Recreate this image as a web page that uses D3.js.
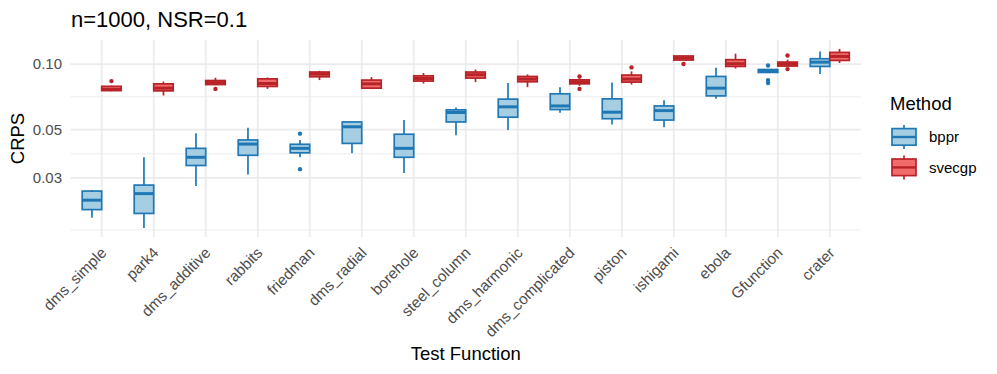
<!DOCTYPE html>
<html>
<head>
<meta charset="utf-8">
<script src="https://cdn.jsdelivr.net/npm/d3@7"></script>
<style>
  body { margin: 0; background: #fff; }
  text { font-family: "Liberation Sans", Arial, Helvetica, sans-serif; }
</style>
</head>
<body>
<div id="chart"></div>
<script>
// chart data
var categories = ["dms_simple", "park4", "dms_additive", "rabbits", "friedman", "dms_radial",
  "borehole", "steel_column", "dms_harmonic", "dms_complicated", "piston", "ishigami",
  "ebola", "Gfunction", "crater"];
var methods = ["bppr", "svecgp"];

// bppr: whisker low, q1, median, q3, whisker high, outliers
var bpprLow  = [0.0197, 0.01765, 0.0275, 0.0311, 0.0373, 0.0389, 0.0316, 0.0471, 0.0498, 0.0598, 0.0527, 0.0512, 0.0692, 0.0915, 0.0899];
var bpprQ1   = [0.02145, 0.0206, 0.0342, 0.0381, 0.0391, 0.0432, 0.0373, 0.0542, 0.0570, 0.0618, 0.0561, 0.0553, 0.0714, 0.0915, 0.0975];
var bpprMed  = [0.0237, 0.0254, 0.0373, 0.0429, 0.0410, 0.0515, 0.0410, 0.0599, 0.0636, 0.0642, 0.0601, 0.0611, 0.0775, 0.0931, 0.1020];
var bpprQ3   = [0.0261, 0.0278, 0.0410, 0.0448, 0.0428, 0.0542, 0.0476, 0.0616, 0.0690, 0.0730, 0.0692, 0.0642, 0.0877, 0.0944, 0.1058];
var bpprHigh = [0.0264, 0.0373, 0.0481, 0.0510, 0.0448, 0.0548, 0.0553, 0.0631, 0.0818, 0.0783, 0.0823, 0.0682, 0.0962, 0.0944, 0.1143];
var bpprOut  = [[], [], [], [], [0.0479, 0.0329], [], [], [], [], [], [], [], [], [0.0985, 0.0844, 0.0818], []];

// svecgp: whisker low, q1, median, q3, whisker high, outliers
var svecgpLow  = [0.0750, 0.0717, 0.0800, 0.0769, 0.0844, 0.0767, 0.0814, 0.0826, 0.0783, 0.0794, 0.0805, 0.1043, 0.0954, 0.0975, 0.1011];
var svecgpQ1   = [0.0755, 0.0753, 0.0805, 0.0789, 0.0874, 0.0775, 0.0835, 0.0862, 0.0829, 0.0811, 0.0826, 0.1043, 0.0975, 0.0979, 0.1039];
var svecgpMed  = [0.0765, 0.0775, 0.0822, 0.0814, 0.0899, 0.0811, 0.0858, 0.0893, 0.0853, 0.0829, 0.0853, 0.1066, 0.1003, 0.1000, 0.1084];
var svecgpQ3   = [0.0790, 0.0811, 0.0840, 0.0855, 0.0919, 0.0844, 0.0883, 0.0919, 0.0877, 0.0846, 0.0890, 0.1089, 0.1047, 0.1021, 0.1131];
var svecgpHigh = [0.0795, 0.0831, 0.0865, 0.0868, 0.0931, 0.0871, 0.0909, 0.0944, 0.0896, 0.0858, 0.0925, 0.1089, 0.1116, 0.1047, 0.1173];
var svecgpOut  = [[0.0835], [], [0.0769], [], [], [], [], [], [], [0.0877, 0.0769], [0.0965], [0.1000], [], [0.1095, 0.0948], []];

// axis breaks
var yTicks = [0.03, 0.05, 0.10];
var yTickLabels = ["0.03", "0.05", "0.10"];
var yMinor = [0.0173, 0.0387, 0.0707];

// build rows for the boxes
var boxData = [];
categories.forEach(function(c, i) {
  boxData.push({cat: c, method: "bppr", low: bpprLow[i], q1: bpprQ1[i], med: bpprMed[i], q3: bpprQ3[i], high: bpprHigh[i], out: bpprOut[i]});
  boxData.push({cat: c, method: "svecgp", low: svecgpLow[i], q1: svecgpQ1[i], med: svecgpMed[i], q3: svecgpQ3[i], high: svecgpHigh[i], out: svecgpOut[i]});
});

var stroke_Color = {bppr: "#1f78b4", svecgp: "#b82328"};
var fill_Color = {bppr: "#a6cee3", svecgp: "#f26b6b"};

// svg size and panel
var svg_Width = 997;
var svg_Height = 374;
var panel = {left: 70.5, right: 861, top: 40, bottom: 237};

var svg = d3.select("#chart")
  .append("svg")
  .attr("width", svg_Width)
  .attr("height", svg_Height);

// scales
var x_Scale = d3.scalePoint()
  .domain(categories)
  .range([panel.left, panel.right])
  .padding(0.6);
var step = x_Scale.step();
var dodge = d3.scaleBand().domain(methods).range([-0.375 * step, 0.375 * step]);
var boxW = dodge.bandwidth();

var allVals = [];
boxData.forEach(function(d) { allVals.push(d.low, d.high); d.out.forEach(function(v) { allVals.push(v); }); });
var lmin = Math.log10(d3.min(allVals)), lmax = Math.log10(d3.max(allVals));
var pad = (lmax - lmin) * 0.05;
var y_Scale = d3.scaleLog()
  .domain([Math.pow(10, lmin - pad), Math.pow(10, lmax + pad)])
  .range([panel.bottom, panel.top]);

// grid
var grid = svg.append("g");
grid.selectAll(".minor").data(yMinor).enter().append("line")
  .attr("x1", panel.left).attr("x2", panel.right)
  .attr("y1", d => y_Scale(d)).attr("y2", d => y_Scale(d))
  .attr("stroke", "#ebebeb").attr("stroke-width", 0.9);
grid.selectAll(".major").data(yTicks).enter().append("line")
  .attr("x1", panel.left).attr("x2", panel.right)
  .attr("y1", d => y_Scale(d)).attr("y2", d => y_Scale(d))
  .attr("stroke", "#ebebeb").attr("stroke-width", 1.7);
grid.selectAll(".vx").data(categories).enter().append("line")
  .attr("x1", d => x_Scale(d)).attr("x2", d => x_Scale(d))
  .attr("y1", panel.top).attr("y2", panel.bottom)
  .attr("stroke", "#ebebeb").attr("stroke-width", 1.7);

// boxes
var boxes = svg.append("g").selectAll("g")
  .data(boxData).enter().append("g")
  .attr("transform", d => `translate(${x_Scale(d.cat) + dodge(d.method) + boxW / 2},0)`);

boxes.append("line")
  .attr("y1", d => y_Scale(d.high)).attr("y2", d => y_Scale(d.q3))
  .attr("stroke", d => stroke_Color[d.method]).attr("stroke-width", 1.7);
boxes.append("line")
  .attr("y1", d => y_Scale(d.q1)).attr("y2", d => y_Scale(d.low))
  .attr("stroke", d => stroke_Color[d.method]).attr("stroke-width", 1.7);
boxes.append("rect")
  .attr("x", -boxW / 2).attr("width", boxW)
  .attr("y", d => y_Scale(d.q3))
  .attr("height", d => Math.max(0.1, y_Scale(d.q1) - y_Scale(d.q3)))
  .attr("fill", d => fill_Color[d.method])
  .attr("stroke", d => stroke_Color[d.method]).attr("stroke-width", 1.7);
boxes.append("line")
  .attr("x1", -boxW / 2).attr("x2", boxW / 2)
  .attr("y1", d => y_Scale(d.med)).attr("y2", d => y_Scale(d.med))
  .attr("stroke", d => stroke_Color[d.method]).attr("stroke-width", 3);
boxes.each(function(d) {
  d3.select(this).selectAll("circle").data(d.out).enter().append("circle")
    .attr("cx", 0).attr("cy", v => y_Scale(v)).attr("r", 2.2)
    .attr("fill", stroke_Color[d.method]);
});

// y axis labels
svg.append("g").selectAll("text").data(yTicks).enter().append("text")
  .attr("x", 62).attr("y", d => y_Scale(d)).attr("dy", "0.36em")
  .attr("text-anchor", "end").attr("font-size", 15).attr("fill", "#4d4d4d")
  .text((d, i) => yTickLabels[i]);

// x axis labels
svg.append("g").selectAll("text").data(categories).enter().append("text")
  .attr("transform", d => `translate(${x_Scale(d) - 2},${panel.bottom + 9}) rotate(-45)`)
  .attr("dy", "0.72em")
  .attr("text-anchor", "end").attr("font-size", 15.3).attr("fill", "#4d4d4d")
  .text(d => d);

// titles
svg.append("text")
  .attr("x", 71).attr("y", 26.5)
  .attr("font-size", 22).attr("fill", "#000")
  .text("n=1000, NSR=0.1");
svg.append("text")
  .attr("x", (panel.left + panel.right) / 2).attr("y", 360)
  .attr("text-anchor", "middle").attr("font-size", 18.5).attr("fill", "#000")
  .text("Test Function");
svg.append("text")
  .attr("transform", `translate(24,${(panel.top + panel.bottom) / 2}) rotate(-90)`)
  .attr("text-anchor", "middle").attr("font-size", 18.5).attr("fill", "#000")
  .text("CRPS");

// legend
var legend = svg.append("g").attr("transform", "translate(889,122)");
legend.append("text").attr("x", 1).attr("y", -12).attr("font-size", 18.5).attr("fill", "#000").text("Method");
var keys = legend.selectAll(".key").data(methods).enter().append("g")
  .attr("transform", (d, i) => `translate(0,${i * 30.4})`);
keys.append("line").attr("x1", 15).attr("x2", 15).attr("y1", 3).attr("y2", 27)
  .attr("stroke", d => stroke_Color[d]).attr("stroke-width", 1.7);
keys.append("rect").attr("x", 3).attr("y", 6.6).attr("width", 24).attr("height", 16.6)
  .attr("fill", d => fill_Color[d]).attr("stroke", d => stroke_Color[d]).attr("stroke-width", 1.7);
keys.append("line").attr("x1", 3).attr("x2", 27).attr("y1", 15).attr("y2", 15)
  .attr("stroke", d => stroke_Color[d]).attr("stroke-width", 2.4);
keys.append("text").attr("x", 40).attr("y", 15).attr("dy", "0.36em")
  .attr("font-size", 15).attr("fill", "#000").text(d => d);
</script>
</body>
</html>
